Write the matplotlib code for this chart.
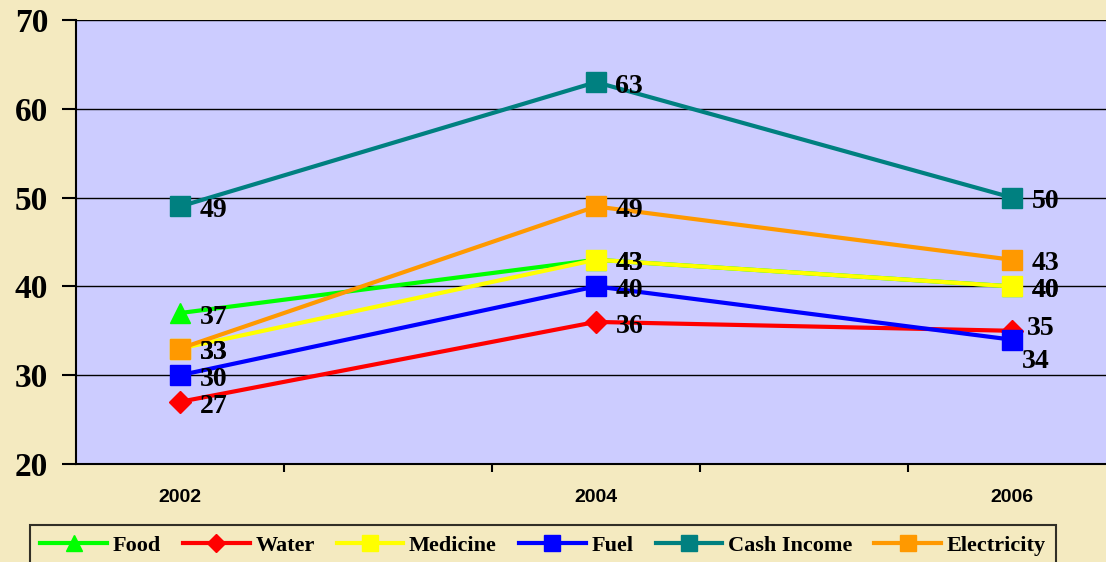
import matplotlib.pyplot as plt

# data
years = ['2002', '2004', '2006']
food = [37, 43, 40]
water = [27, 36, 35]
medicine = [33, 43, 40]
fuel = [30, 40, 34]
cash_income = [49, 63, 50]
electricity = [33, 49, 43]

series = [
    ('Food', food, '#00FF00', '^'),
    ('Water', water, '#FF0000', 'D'),
    ('Medicine', medicine, '#FFFF00', 's'),
    ('Fuel', fuel, '#0000FF', 's'),
    ('Cash Income', cash_income, '#008080', 's'),
    ('Electricity', electricity, '#FF9900', 's'),
]

bg = '#F4EAC0'
fig = plt.figure(figsize=(11.06, 5.62), dpi=100, facecolor=bg)
ax = fig.add_axes([76 / 1106, 98 / 562, 1030 / 1106, 444 / 562])
ax.set_facecolor('#CCCCFF')

x = [0, 2, 4]  # categories sit in every other slot of the axis
for name, vals, col, mk in series:
    ms = 11 if mk == 'D' else 15
    if mk == '^':
        ms = 14
    ax.plot(x, vals, color=col, lw=3, marker=mk, markersize=ms,
            markeredgecolor=col, label=name, clip_on=False, zorder=3)
    for i, v in enumerate(vals):
        dx, dy = 14, -3
        if name == 'Fuel' and i == 2:
            dx, dy = 7, -16
        if name == 'Water' and i == 2:
            dx, dy = 11, 2
        ax.annotate(str(v), (x[i], v), xytext=(dx, dy), textcoords='offset points',
                    ha='left', va='center', fontsize=20, fontweight='bold',
                    family='Liberation Serif', zorder=5)

ax.set_ylim(20, 70)
ax.set_xlim(-0.5, 4.452)
ax.set_yticks([20, 30, 40, 50, 60, 70])
ax.yaxis.grid(True, color='black', lw=1)
ax.set_axisbelow(True)
for lab in ax.get_yticklabels():
    lab.set_fontsize(24)
    lab.set_fontweight('bold')
    lab.set_family('Liberation Serif')
ax.tick_params(axis='y', direction='out', length=10, width=1.5, pad=10)

ax.set_xticks(x)
ax.set_xticklabels(years, fontsize=14, fontweight='bold', family='Liberation Sans')
ax.set_xticks([0.5, 1.5, 2.5, 3.5], minor=True)
ax.tick_params(axis='x', which='major', length=0, pad=18)
ax.tick_params(axis='x', which='minor', direction='out', length=6, width=1.5)

for s in ['top', 'right']:
    ax.spines[s].set_visible(False)
for s in ['left', 'bottom']:
    ax.spines[s].set_linewidth(1.5)

leg = fig.legend(loc='upper center', bbox_to_anchor=(543 / 1106, 1 - 525 / 562), ncol=6,
                 frameon=True, facecolor=bg, edgecolor='black', fancybox=False,
                 prop={'family': 'Liberation Serif', 'weight': 'bold', 'size': 16},
                 handlelength=3.0, columnspacing=1.0, handletextpad=0.25,
                 markerscale=0.8, borderpad=0.45, borderaxespad=0)
leg.get_frame().set_linewidth(1.5)

fig.savefig('out.png', dpi=100, facecolor=bg)
